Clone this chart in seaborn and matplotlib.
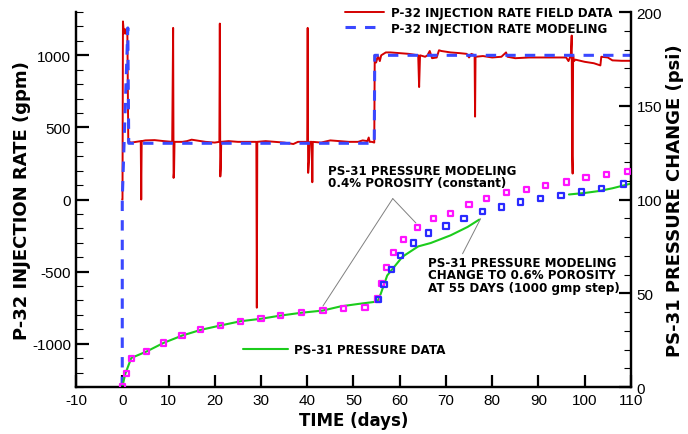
import numpy as np
import pandas as pd
import matplotlib
matplotlib.use("Agg")
import matplotlib.pyplot as plt
import seaborn as sns

# ---- P-32 injection rate, field data (gpm) ----
rate_field_t = [0.0, 0.05, 0.15, 0.35, 0.55, 0.75, 0.95, 1.1, 1.3, 2.0, 3.0, 4.0, 4.1, 4.2,
                5.0, 7.0, 9.0, 10.8, 11.0, 11.1, 11.2, 11.3, 13.0, 14.0, 15.0, 16.0, 18.0,
                20.0, 21.0, 21.1, 21.2, 21.3, 21.4, 23.0, 25.0, 27.0, 29.0, 29.1, 29.2, 31.0,
                33.0, 35.0, 37.0, 38.0, 40.0, 40.1, 40.2, 40.4, 40.6, 41.0, 41.1, 41.2, 43.0,
                45.0, 47.0, 49.0, 51.0, 52.0, 53.0, 53.3, 53.5, 54.0, 54.5, 54.6, 54.9, 55.3,
                55.7, 56.0, 56.5, 57.0, 58.0, 60.0, 62.0, 63.0, 64.0, 64.2, 64.4, 65.5, 66.0,
                66.5, 67.0, 68.0, 68.5, 69.0, 71.0, 73.0, 74.5, 75.0, 75.5, 76.2, 76.3, 76.4,
                78.0, 80.0, 82.0, 83.0, 83.3, 85.0, 88.0, 92.0, 96.0, 96.5, 97.0, 97.2, 97.3,
                97.4, 97.5, 97.7, 98.0, 100.0, 102.0, 103.4, 103.6, 105.0, 106.0, 108.0, 110.0]
rate_field_q = [0, 0, 1235, 1150, 1180, 1150, 1185, 1180, 400, 395, 400, 405, 0, 405,
                410, 412, 405, 400, 1190, 150, 190, 400, 400, 405, 415, 410, 400,
                395, 400, 1220, 160, 210, 400, 405, 400, 400, 400, -750, 400, 405,
                400, 395, 385, 400, 400, 1190, 185, 270, 400, 400, 120, 400, 395,
                410, 405, 400, 400, 410, 405, 430, 400, 400, 395, 1000, 950, 995,
                960, 1000, 1010, 1020, 1020, 1015, 1010, 1005, 1000, 780, 1000, 990, 1000,
                1030, 980, 985, 1035, 1030, 1020, 1015, 1010, 985, 1010, 1000, 575, 990,
                995, 985, 990, 1020, 990, 980, 985, 985, 985, 960, 1000, 1137, 300,
                180, 1000, 960, 970, 955, 945, 930, 990, 985, 965, 962, 962]

# ---- P-32 injection rate, modeling (gpm) ----
rate_model_t = [0.0, 0.0, 1.2, 1.4, 54.5, 54.6, 110.0]
rate_model_q = [-1300, 0, 1190, 390, 390, 1000, 1000]

# ---- PS-31 pressure data (psi); NaN marks the gap in the record ----
pres_data_t = [0.0, 0.65, 1.95, 5.3, 8.9, 12.9, 17.0, 21.2, 25.6, 30.0, 34.2, 38.7, 43.4,
               47.2, 51.0, 55.2, 55.9, 57.3, 60.6, 64.0, 66.7, 71.0, 74.7, 77.2,
               85.0, 96.6, 100.0, 103.0, 106.0, 110.0]
pres_data_p = [0.0, 7.0, 15.5, 19.0, 23.5, 27.4, 30.5, 32.8, 35.1, 36.4, 38.1, 39.6, 40.8,
               43.0, 44.3, 45.6, 49.7, 59.5, 69.5, 75.0, 76.8, 80.9, 85.4, 89.3,
               np.nan, 102.7, 103.5, 104.5, 106.0, 108.5]

# ---- PS-31 pressure modeling, 0.4% porosity (constant) ----
model04_t = [0.0, 0.9, 2.0, 5.3, 8.9, 12.9, 17.0, 21.2, 25.6, 30.0, 34.2, 38.7, 43.4, 47.9,
             52.5, 55.2, 56.0, 57.1, 58.6, 60.8, 63.8, 67.3, 71.0, 75.0, 78.8, 83.1, 87.4,
             91.6, 96.0, 100.3, 104.8, 109.2]
model04_p = [0.0, 7.0, 15.0, 19.0, 23.5, 27.4, 30.5, 32.8, 35.1, 36.4, 38.1, 39.6, 40.8, 41.7,
             42.2, 47.0, 55.4, 63.6, 71.6, 78.8, 85.0, 89.8, 92.5, 97.5, 100.5, 103.7, 105.5,
             107.3, 109.4, 111.6, 113.4, 115.1]

# ---- PS-31 pressure modeling, 0.6% porosity from 55 days ----
model06_t = [55.4, 56.6, 58.2, 60.2, 62.9, 66.2, 70.0, 73.9, 77.9, 82.0, 86.2, 90.4, 94.9,
             99.4, 103.7, 108.4]
model06_p = [46.5, 54.5, 62.6, 70.2, 76.8, 82.2, 85.9, 89.8, 93.7, 96.0, 98.7, 100.5, 102.0,
             104.0, 105.9, 108.3]

RED = "#d40000"
BLUE_LINE = "#3a48ff"
BLUE_MK = "#2a2aff"
MAGENTA = "#ff14ff"
GREEN = "#1ccc1c"

sns.set_style("ticks")
plt.rcParams["font.family"] = ["Liberation Sans", "DejaVu Sans"]
plt.rcParams["axes.unicode_minus"] = False
for key in ("text.color", "axes.labelcolor", "axes.edgecolor", "xtick.color", "ytick.color"):
    plt.rcParams[key] = "black"

BOLD = {"family": "DejaVu Sans", "weight": "bold"}
SMALL = dict(BOLD, size=8.6)

fig = plt.figure(figsize=(6.88, 4.35), dpi=100)
ax = fig.add_axes([0.1105, 0.108, 0.8065, 0.862])
ax2 = ax.twinx()

field = pd.DataFrame({"t": rate_field_t, "q": rate_field_q})
model = pd.DataFrame({"t": rate_model_t, "q": rate_model_q})
sns.lineplot(data=field, x="t", y="q", ax=ax, sort=False, estimator=None,
             color=RED, lw=1.4, label="P-32 INJECTION RATE FIELD DATA")
sns.lineplot(data=model, x="t", y="q", ax=ax, sort=False, estimator=None,
             color=BLUE_LINE, lw=2.2, label="P-32 INJECTION RATE MODELING")
ax.lines[-1].set_dashes([3.4, 3.0])

pdata = pd.DataFrame({"t": pres_data_t, "p": pres_data_p})
ax2.plot(pdata["t"], pdata["p"], color=GREEN, lw=1.5, label="PS-31 PRESSURE DATA")
m04 = pd.DataFrame({"t": model04_t, "p": model04_p})
m06 = pd.DataFrame({"t": model06_t, "p": model06_p})
sns.scatterplot(data=m04, x="t", y="p", ax=ax2, marker="s", s=14,
                facecolor="none", edgecolor=MAGENTA, linewidth=1.6, zorder=4, legend=False)
sns.scatterplot(data=m06, x="t", y="p", ax=ax2, marker="s", s=14,
                facecolor="none", edgecolor=BLUE_MK, linewidth=1.6, zorder=4, legend=False)

# axes limits and ticks
ax.set_xlim(-10, 110)
ax.set_ylim(-1300, 1300)
ax2.set_ylim(0, 200)
ax.set_xticks(np.arange(-10, 111, 10))
ax.set_yticks([-1000, -500, 0, 500, 1000])
ax.set_yticks(np.arange(-1300, 1301, 100), minor=True)
ax2.set_yticks([0, 50, 100, 150, 200])
ax2.set_yticks(np.arange(0, 201, 10), minor=True)

for a in (ax, ax2):
    a.spines["top"].set_visible(False)
    for s in ("left", "right", "bottom"):
        a.spines[s].set_linewidth(1.6)
        a.spines[s].set_color("black")
    a.tick_params(which="major", direction="in", length=9, width=1.6, labelsize=11,
                  colors="black")
    a.tick_params(which="minor", direction="in", length=5, width=0.8, colors="black")
ax.tick_params(axis="x", pad=4)
ax2.tick_params(axis="y", pad=4)
ax2.yaxis.set_tick_params(which="both", right=True, left=False)

ax.set_xlabel("TIME (days)", fontdict=dict(BOLD, size=12), labelpad=3, color="black")
ax.set_ylabel("P-32 INJECTION RATE (gpm)", fontdict=dict(BOLD, size=13), labelpad=1,
              color="black")
ax2.set_ylabel("PS-31 PRESSURE CHANGE (psi)", fontdict=dict(BOLD, size=13), labelpad=3,
               color="black")

ax.legend(loc="upper left", bbox_to_anchor=(0.485, 1.015), frameon=False,
          prop=SMALL, handlelength=3.25, handletextpad=0.58, labelspacing=0.18,
          borderpad=0, borderaxespad=0, labelcolor="black")
ax2.legend(loc="center left", bbox_to_anchor=(0.301, 0.099), frameon=False,
           prop=SMALL, handlelength=3.8, handletextpad=0.5, borderpad=0, borderaxespad=0,
           labelcolor="black")

# annotations on the pressure axis
gray = dict(arrowstyle="-", color="#808080", lw=0.7, shrinkA=0, shrinkB=0)
ax2.text(44.4, 112.3, "PS-31 PRESSURE MODELING\n0.4% POROSITY (constant)",
         fontdict=SMALL, va="center", ha="left", linespacing=0.95, color="black")
ax2.annotate("", xy=(43.4, 43.2), xytext=(58.5, 100.5), arrowprops=gray)
ax2.annotate("", xy=(63.5, 87.5), xytext=(58.5, 100.5), arrowprops=gray)
ax2.text(66.1, 60.0, "PS-31 PRESSURE MODELING\nCHANGE TO 0.6% POROSITY\nAT 55 DAYS (1000 gmp step)",
         fontdict=SMALL, va="center", ha="left", linespacing=0.95, color="black")
ax2.annotate("", xy=(77.5, 89.8), xytext=(73.6, 71.1), arrowprops=gray)

fig.savefig("out.png", dpi=100)
